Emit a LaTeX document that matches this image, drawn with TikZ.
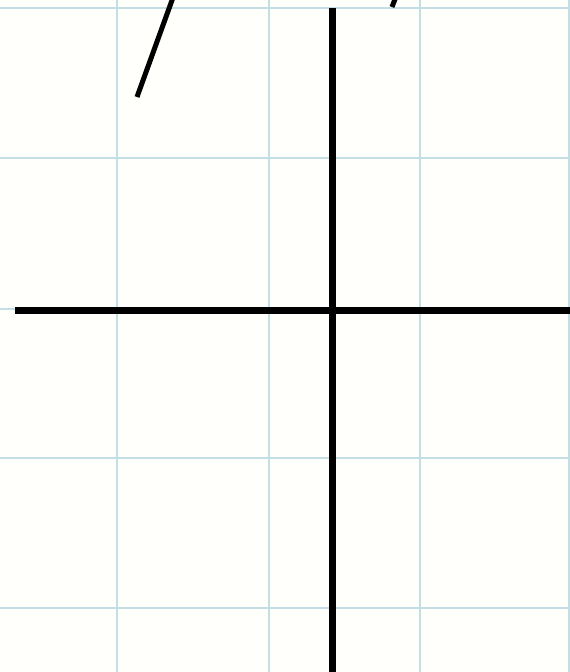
\documentclass[tikz,border=0pt]{standalone}
\begin{document}
\begin{tikzpicture}[x=1pt,y=-1pt,
  gridline/.style={draw=gridblue,line width=2.6pt},
  axisline/.style={draw=black,line width=7pt},
  slantline/.style={draw=black,line width=5pt}]
\definecolor{gridblue}{HTML}{C4DEE6}
\useasboundingbox (0,0) rectangle (570,672);
\clip (0,0) rectangle (570,672);
\fill[white!97!yellow!50!white] (0,0) rectangle (570,672);
% grid
\foreach \gx in {117,269,420,569} \draw[gridline] (\gx,0) -- (\gx,672);
\foreach \gy in {8,158,458,608} \draw[gridline] (0,\gy) -- (570,\gy);
\draw[gridline] (0,309) -- (570,309);
% axes
\coordinate (xl) at (15,310);
\coordinate (xr) at (575,310);
\coordinate (yt) at (332,8);
\coordinate (yb) at (332,680);
\draw[axisline] (xl) -- (xr);
\draw[axisline] (yt) -- (yb);
% slanted segments
\coordinate (s1a) at (137,97);
\coordinate (s1b) at (175,-8);
\draw[slantline] (s1a) -- (s1b);
\coordinate (s2a) at (392,7);
\coordinate (s2b) at (397,-6);
\draw[slantline] (s2a) -- (s2b);
\end{tikzpicture}
\end{document}
